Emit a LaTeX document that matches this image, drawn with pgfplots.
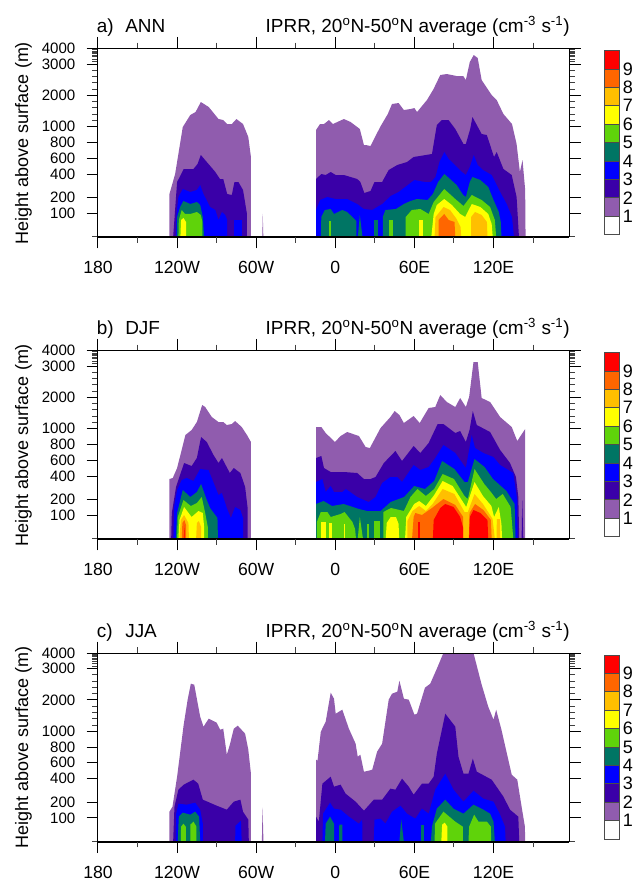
\documentclass[border=0pt]{standalone}
\usepackage{pgfplots}
\pgfplotsset{compat=1.18}
\usepackage{fontspec}
\setmainfont{Liberation Sans}
\definecolor{la}{HTML}{905CAE}
\definecolor{lb}{HTML}{3A00A8}
\definecolor{lc}{HTML}{0000FF}
\definecolor{ld}{HTML}{007564}
\definecolor{le}{HTML}{5FD30A}
\definecolor{lf}{HTML}{FFFF00}
\definecolor{lg}{HTML}{FFBF00}
\definecolor{lh}{HTML}{FF6600}
\definecolor{li}{HTML}{FF0000}
\newcommand\lev[2]{\addplot[fill=#1,draw=none,forget plot] coordinates {#2} -- cycle;}
\newcommand\bx[2]{\addplot[fill=#1,draw=black!70,line width=0.7pt,forget plot] coordinates {(0,#2)(1,#2)(1,#2+1)(0,#2+1)} -- cycle;}
\pgfplotsset{
 panel/.style={
  scale only axis,width=353.5pt,height=141.5pt,
  xmin=-180,xmax=177.5,ymin=0,ymax=188.7,
  axis on top,clip=false,tick align=outside,
  xtick={-180,-120,-60,0,60,120},
  xticklabels={180,120W,60W,0,60E,120E},
  minor xtick={-150,-90,-30,30,90,150},
  ytick={23.7,39.3,63,79,94.3,110.3,141.7,173,188.7},
  yticklabels={100,200,400,600,800,1000,2000,3000,4000},
  minor ytick={0,116.6,122.8,129.1,135.4,148,154.2,160.5,166.8,175.5,178,180.2,182,183.6,185,186,187.2},
  major tick length=8.5pt,minor tick length=4.2pt,
  tick style={black,line width=0.75pt},
  minor tick style={black!75,line width=0.75pt},
  axis line style={line width=0.75pt},
  xticklabel style={font=\fontsize{13.2}{13.2}\selectfont,yshift=-6.5pt},
  yticklabel style={font=\fontsize{11.3}{11.3}\selectfont,xshift=-5pt},
  ylabel={Height above surface (m)},
  every axis y label/.style={at={(axis cs:-236.5,94)},rotate=90,anchor=center,font=\fontsize{13.5}{13.5}\selectfont},
  title={IPRR, 20\textsuperscript{o}N-50\textsuperscript{o}N average (cm\textsuperscript{-3} s\textsuperscript{-1})},
  every axis title/.style={at={(axis cs:178,204.5)},anchor=base east,inner sep=0pt,font=\fontsize{14.2}{14.2}\selectfont},
 },
 cbar/.style={
  scale only axis,width=10.9pt,height=138pt,xmin=0,xmax=1,ymin=0,ymax=10,
  axis line style={draw=none},clip=false,xtick=\empty,
  ytick={1,2,3,4,5,6,7,8,9},major tick length=0pt,yticklabel pos=right,
  yticklabel style={font=\fontsize{13.5}{13.5}\selectfont,xshift=-0.6pt},
  /pgf/number format/assume math mode=true,
 },
}
\newcommand\plab[2]{\node[anchor=base west,inner sep=0pt,font=\fontsize{14.2}{14.2}\selectfont] at (axis cs:-181,204.5) {#1};
 \node[anchor=base west,inner sep=0pt,font=\fontsize{14.2}{14.2}\selectfont] at (axis cs:-159.5,204.5) {#2};
 \draw[line width=1.5pt] (axis cs:-180,0) -- (axis cs:177.5,0);}
\newcommand\colorbar{\bx{white}{0}\bx{la}{1}\bx{lb}{2}\bx{lc}{3}\bx{ld}{4}\bx{le}{5}\bx{lf}{6}\bx{lg}{7}\bx{lh}{8}\bx{li}{9}}
\begin{document}
\begin{tikzpicture}
\path[use as bounding box] (0,0) rectangle (476.25pt,662.25pt);
% ---------- a) ANN
\begin{axis}[panel,at={(73.5pt,484.5pt)},anchor=south west]
\lev{la}{(-125.8,0)(-125.8,43)(-121.5,63)(-115.7,110)(-110,122)(-106,125)(-102,135)(-96,130)(-88.6,118)(-85,117)(-82,113)(-78.5,113)(-75,118)(-70,113)(-66,100)(-64,80)(-64,0)}
\lev{la}{(-55.4,0)(-55,23)(-54.6,0)}
\lev{lb}{(-123,0)(-121,37)(-120,55)(-115,68)(-107.6,68)(-104.5,73)(-102,82)(-97.5,75)(-91,65)(-87.5,58)(-85,58)(-82,43)(-78.5,42)(-76.5,55)(-73.5,55)(-70,47)(-67,23)(-67,0)}
\lev{lc}{(-121,0)(-120.5,23)(-119,40)(-115.7,48)(-110,45)(-105,47)(-102.5,52)(-100,43)(-95,30)(-91,27)(-88.6,17)(-86,25)(-83.5,22)(-82,17)(-82,0)}
\lev{lc}{(-77.2,0)(-77.2,17)(-71,17)(-71,0)}
\lev{ld}{(-120.3,0)(-120,20)(-117.7,30)(-115.2,36)(-110,33)(-105,35)(-102.5,32)(-100.5,20)(-99.5,0)}
\lev{le}{(-119,0)(-118.7,17)(-116.5,27)(-114,23)(-110,23)(-105,25)(-102,22)(-100.8,15)(-100.8,0)}
\lev{lf}{(-117.5,0)(-117,17)(-115.2,19)(-113.2,15)(-113.2,0)}
%
\lev{la}{(-14.6,0)(-14.6,107)(-11.6,113)(-8.6,113)(-4.8,117)(-1.8,113)(6.5,118)(11.6,115)(18.6,108)(21.7,92)(23,92)(26.7,91)(34,110)(39.8,123)(43,133)(48,134)(52,127)(57,128)(60,129)(62,125)(69.5,137)(74.5,148)(79.6,162)(84.6,163)(92,161)(97,161)(99,157)(102,175)(105,182)(108,179)(111,157)(118.6,142)(122.4,137)(127.5,123)(134,113)(137.5,93)(140,65)(142,77)(144,47)(144.3,0)}
\lev{lb}{(-14.6,0)(-14.6,58)(-10.6,63)(-7.3,62)(-3.5,65)(0.3,62)(6.5,62)(16.6,58)(19,55)(22,44)(26.7,46)(29.7,55)(35.5,55)(40.5,67)(47,72)(54.4,75)(59.4,80)(73.3,83)(77,112)(80.9,117)(85.9,117)(91,108)(97.2,93)(99,93)(102.3,108)(104,120)(107.3,112)(111,103)(114.9,102)(120.4,80)(122.4,85)(127.5,68)(133.8,62)(137.5,40)(139.3,0)}
\lev{lc}{(-14.6,0)(-14.6,27)(-11.5,37)(-6,40)(0,38)(8.9,38)(16.6,33)(21.6,28)(28,27)(35.6,33)(42,41)(48,45)(55,52)(60,57)(68,55)(72.6,55)(76,60)(79,75)(82.7,85)(86,78)(90,73)(96,65)(99,62)(102,70)(105,82)(108,72)(112,67)(118.6,62)(125,45)(130,33)(134,20)(135.5,0)}
\lev{ld}{(-11,0)(-10.6,20)(-8,27)(-3.5,28)(-1,23)(5.3,27)(9,25)(16,16)(16,0)}
\lev{ld}{(17.1,0)(18.6,22)(20.6,0)}
\lev{ld}{(29.7,0)(29.7,17)(32.7,17)(32.7,0)}
\lev{ld}{(36,0)(36,20)(38,27)(46,28)(52,33)(57,36)(62,38)(70,37)(74,43)(78,55)(82.7,63)(87,58)(92,52)(97,42)(99,40)(102,55)(104,60)(110,57)(116,50)(120,37)(124,25)(125.5,15)(126,0)}
\lev{le}{(-4.5,0)(-4.5,16)(-3,16)(-3,0)}
\lev{le}{(40.5,0)(40.5,17)(43.8,17)(43.8,0)}
\lev{le}{(53.4,0)(53.4,20)(58,27)(64.5,28)(70.8,23)(74.6,35)(82.6,48)(91,38)(97.2,31)(103.5,42)(111,37)(117.4,30)(121,17)(122,0)}
\lev{lf}{(63.2,0)(63.2,17)(66.2,17)(66.2,0)}
\lev{lf}{(72.8,0)(74.6,23)(77,32)(82.6,38)(88.4,32)(94.7,23)(98.5,20)(103.5,33)(110,30)(116,23)(118.6,13)(119.4,0)}
\lev{lg}{(75.3,0)(76,20)(82.1,30)(87,27)(92,18)(95,10)(95.5,0)}
\lev{lg}{(103,0)(103,20)(106,25)(111,22)(115,15)(115.4,0)}
\lev{lh}{(78.3,0)(78.3,17)(82.6,23)(86,17)(90.4,15)(91,0)}
\plab{a)}{ANN}
\end{axis}
\begin{axis}[cbar,at={(453.4pt,486.3pt)},anchor=south west]\colorbar\end{axis}
% ---------- b) DJF
\begin{axis}[panel,at={(73.5pt,258pt)},anchor=south west]
\lev{la}{(-125.8,0)(-125.8,60)(-123.3,61)(-120,71)(-113.7,104)(-109,109)(-105,117)(-101,134)(-98.7,132)(-93.7,122)(-88.6,117)(-85,117)(-82.3,114)(-78.5,115)(-76,118)(-71,112)(-67,104)(-64,97)(-64,0)}
\lev{lb}{(-124.5,0)(-124,26)(-120.8,52)(-114.7,76)(-109,73)(-105,81)(-101.8,102)(-97.5,97)(-92.4,84)(-88.6,76)(-86,81)(-80,66)(-77,71)(-72,66)(-68.4,52)(-66.6,32)(-66.6,0)}
\lev{lc}{(-122.8,0)(-122.3,32)(-120,49)(-116.5,59)(-112.7,61)(-107.6,58)(-102.5,70)(-96.2,69)(-91,52)(-88.6,44)(-86,46)(-82.3,31)(-79.2,21)(-76,32)(-72,29)(-70,21)(-70,0)}
\lev{ld}{(-121,0)(-120,26)(-115.7,49)(-110,42)(-105,47)(-101.8,55)(-97.5,39)(-95,31)(-89.4,21)(-89,0)}
\lev{le}{(-120,0)(-119.5,22)(-115.2,39)(-109.6,33)(-105,36)(-101.3,42)(-98.7,26)(-96.7,12)(-96.7,0)}
\lev{lf}{(-119,0)(-118.2,19)(-114.7,32)(-109,22)(-103.8,28)(-100.5,26)(-99.5,12)(-99.5,0)}
\lev{lg}{(-118.2,0)(-117.2,19)(-114.7,24)(-111.4,16)(-111,0)}
\lev{lg}{(-105.6,0)(-105,16)(-103.5,18)(-101.8,12)(-101.8,0)}
\lev{lh}{(-116.5,0)(-116,16)(-114.5,19)(-113.2,14)(-113.2,0)}
\lev{li}{(-114.9,0)(-114.5,14)(-114.2,0)}
%
\lev{la}{(-14.6,0)(-14.6,112)(-10.6,112)(-7.3,106)(-0.3,97)(4,103)(9,107)(17.9,103)(23,92)(26.2,91)(34.3,111)(41.8,122)(45,128)(48.6,124)(52,116)(59.4,123)(64,116)(70.8,131)(75.8,132)(79.6,144)(84.6,137)(91,132)(94.7,141)(99,132)(101.5,142)(104.8,177)(108,177)(111,141)(117.4,137)(125,122)(133.8,112)(138,98)(144,110)(144,0)}
\lev{lb}{(-14.6,0)(-14.6,81)(-10.6,83)(-8.6,71)(-3.5,67)(6.5,67)(16.6,66)(21.7,60)(26.7,60)(30.5,62)(36.8,76)(45.6,88)(50.6,78)(59.4,93)(64.5,86)(70.8,96)(77.6,115)(82,115)(91,106)(94.7,108)(99,97)(101.8,109)(104.3,128)(107.3,114)(117.4,107)(125,89)(132.5,76)(137,62)(138.8,42)(139.5,0)}
\lev{lb}{(141.3,0)(141.8,39)(142.6,0)}
\lev{lc}{(-14.6,0)(-14.6,57)(-9.8,60)(-7.3,47)(-3.5,53)(-1,47)(5.3,47)(8,50)(16.6,42)(21.7,39)(25.4,37)(30.5,42)(35.5,56)(41.8,62)(47,62)(50.6,57)(59.4,74)(64.5,69)(70.8,72)(75.8,81)(82,94)(91,86)(99,71)(103.5,104)(106,91)(112.3,86)(119.9,82)(125,74)(135,66)(138,39)(138.3,0)}
\lev{ld}{(-14.6,0)(-14.6,35)(-8.9,38)(-2.5,33)(6.4,35)(17.8,30)(24.2,28)(34.4,28)(42,37)(52.2,42)(59.8,53)(68,50)(75,58)(81,78)(90.3,70)(98,57)(100.5,57)(105.6,80)(113.2,72)(119.6,60)(129.8,48)(136,35)(136.7,0)}
\lev{le}{(-14,0)(-14,17)(-11,27)(-6,27)(-3.5,22)(4,25)(7,27)(13,17)(15,10)(15.7,0)}
\lev{le}{(17,0)(18.6,22)(21,0)}
\lev{le}{(23.7,0)(23.7,15)(25.5,15)(25.5,0)}
\lev{le}{(29.3,0)(29.3,18)(33.6,18)(33.6,0)}
\lev{le}{(36.4,0)(36.4,27)(42.3,31)(52,28)(57,42)(62.3,50)(68.7,43)(75,50)(81.4,65)(90,60)(98,43)(100.5,40)(105.6,70)(113,55)(118,47)(122,40)(127,45)(133,32)(135,0)}
\lev{lf}{(-10.7,0)(-10.7,17)(-6.9,17)(-6.9,0)}
\lev{lf}{(-4.6,0)(-4.6,16)(-2.3,16)(-2.3,0)}
\lev{lf}{(6.4,0)(6.4,15)(7.6,15)(7.6,0)}
\lev{lf}{(38.2,0)(39,16)(42,22)(46,22)(48,15)(48.4,0)}
\lev{lf}{(52.9,0)(53.8,22)(59.8,35)(63.6,38)(68.7,33)(75,44)(81.4,58)(89,53)(99.3,32)(105.6,57)(112,43)(118.4,33)(120.4,22)(124,32)(126,15)(126.5,0)}
\lev{lg}{(54.7,0)(54.7,18)(58.5,28)(63.6,33)(68.7,28)(73.8,35)(81.4,50)(90.3,45)(98,27)(100.5,27)(105.6,45)(112,35)(119.3,20)(121,0)}
\lev{lg}{(122.3,0)(122.5,20)(125,20)(125,0)}
\lev{lh}{(58.2,0)(59.4,22)(60.7,26)(65.7,24)(73.3,31)(82,40)(91,34)(97,22)(97,0)}
\lev{lh}{(101.3,0)(101.8,26)(106,35)(112.3,29)(118,19)(118.6,0)}
\lev{li}{(62.5,0)(62.5,17)(64.5,17)(64.5,0)}
\lev{li}{(74,0)(74.6,19)(79.6,31)(83.4,35)(89.7,32)(94.7,22)(97,11)(97,0)}
\lev{li}{(101.5,0)(102,22)(104.8,29)(110,26)(115.4,19)(116,0)}
\plab{b)}{DJF}
\end{axis}
\begin{axis}[cbar,at={(453.4pt,259.8pt)},anchor=south west]\colorbar\end{axis}
% ---------- c) JJA
\begin{axis}[panel,at={(73.5pt,31pt)},anchor=south west]
\lev{la}{(-125.8,0)(-125.8,30)(-123.5,35)(-120,65)(-115,117)(-112,142)(-109.6,158)(-107,157)(-102.5,125)(-100,115)(-96,123)(-90,119)(-87.3,112)(-85,113)(-82.3,87)(-80,97)(-77,113)(-74,116)(-68.4,108)(-66,92)(-64,68)(-64,0)}
\lev{la}{(-55.7,0)(-55.2,34)(-54.5,0)}
\lev{lb}{(-123,0)(-122,35)(-119,52)(-115,57)(-107.6,62)(-104,58)(-100.5,42)(-90,36)(-82.3,32)(-77,40)(-72,42)(-70,30)(-66,22)(-65.6,0)}
\lev{lc}{(-121,0)(-120.7,28)(-119,38)(-112.7,37)(-106.3,39)(-102.5,32)(-100.5,18)(-100.5,0)}
\lev{lc}{(-76,0)(-75.7,16)(-71.6,21)(-71,0)}
\lev{ld}{(-119.5,0)(-118.7,25)(-115.7,29)(-110,27)(-106.3,30)(-103.3,25)(-102.5,0)}
\lev{le}{(-117.2,0)(-117,15)(-115.2,18)(-113.4,15)(-113.4,0)}
\lev{le}{(-110,0)(-110,17)(-107.6,20)(-105.3,15)(-105.3,0)}
%
\lev{la}{(-14.6,0)(-14.6,82)(-13.5,81)(-11,110)(-7.3,120)(-3.5,149)(-1,143)(0.3,128)(5.3,132)(10.3,113)(15.4,98)(17,85)(19,87)(21.7,70)(25.4,71)(28,72)(31.7,90)(35.5,98)(40.5,142)(43,148)(47,150)(48.6,161)(52,143)(55.7,142)(60,127)(62,128)(68,154)(72,158)(77,173)(82,188.7)(104.8,188.7)(111,157)(116,135)(120,122)(122,132)(126,112)(133.8,67)(138,62)(141.3,35)(143.8,15)(144,0)}
\lev{lb}{(-14.6,0)(-14.6,25)(-12.5,20)(-9.8,58)(-3.5,65)(-1,55)(4,57)(7.8,48)(15.4,40)(21.7,31)(29.2,42)(35.5,42)(41.8,53)(45.6,52)(50.6,63)(55.7,55)(59.4,47)(65.7,58)(70.8,58)(74.6,65)(77,88)(83.4,128)(91,115)(93.4,85)(97.2,68)(101,68)(104.3,83)(107.3,70)(118.6,62)(127.5,45)(132.5,32)(138.8,25)(139.5,0)}
\lev{lc}{(-9.8,0)(-9.3,28)(-4,39)(-1,33)(4,32)(10.3,25)(17.9,18)(20.4,22)(20.6,0)}
\lev{lc}{(29.2,0)(29.7,22)(34.3,23)(38,18)(43,30)(49.4,36)(54.4,28)(60.7,23)(65.7,33)(70.8,28)(75.8,52)(83.4,68)(89.7,52)(97.2,40)(104.8,51)(112.3,43)(120,40)(125,27)(128.7,15)(129.2,0)}
\lev{ld}{(-7.8,0)(-7.3,18)(-4,25)(-1,18)(-0.8,0)}
\lev{ld}{(2.8,0)(3,17)(5.3,17)(5.3,0)}
\lev{ld}{(48.6,0)(50,22)(52,0)}
\lev{ld}{(65,0)(65,17)(67.5,17)(67.5,0)}
\lev{ld}{(72.5,0)(73.3,15)(77,33)(83.4,42)(89.7,33)(97.2,28)(104.8,37)(112.3,32)(117.4,28)(120,20)(121,0)}
\lev{le}{(75.3,0)(75.6,18)(82,30)(91,20)(96.7,15)(96.7,0)}
\lev{le}{(101,0)(101.5,15)(105.3,27)(108.6,20)(115,20)(118,15)(118.2,0)}
\lev{lf}{(80.4,0)(81,17)(83,19)(85,15)(85,0)}
\plab{c)}{JJA}
\end{axis}
\begin{axis}[cbar,at={(453.4pt,33pt)},anchor=south west]\colorbar\end{axis}
\end{tikzpicture}
\end{document}
